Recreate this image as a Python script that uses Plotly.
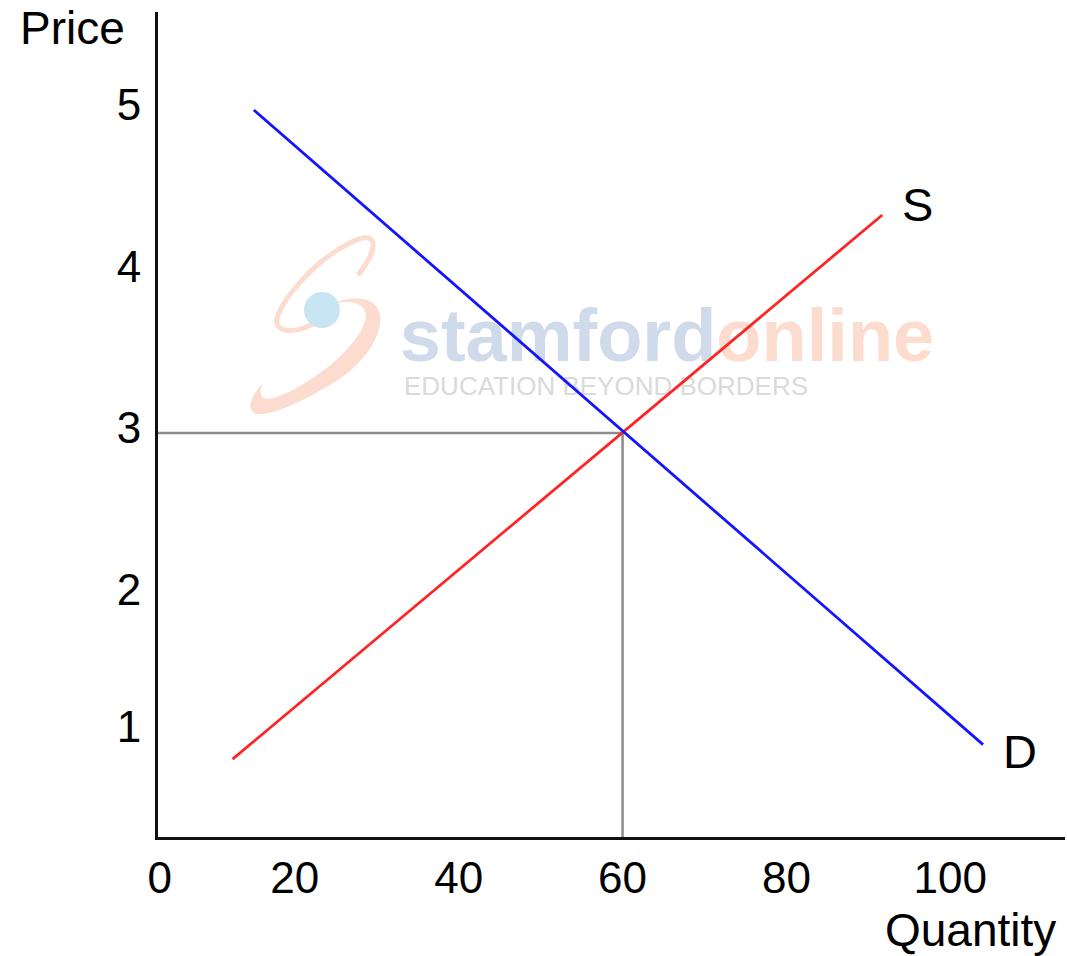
import plotly.graph_objects as go

# ---- data ----
demand_q = [15, 104]
demand_p = [5, 1.07]
supply_q = [12.4, 91.7]
supply_p = [0.98, 4.35]
eq_q = 60
eq_p = 3
x_tick_vals = [3.5, 20, 40, 60, 80, 100]
x_tick_text = ["0", "20", "40", "60", "80", "100"]
y_tick_vals = [1.15, 2, 3, 4, 5]
y_tick_text = ["1", "2", "3", "4", "5"]
x_range = [3.3, 114.0]
y_range = [0.498, 5.607]

W, H = 1067, 956
L, R, T, B = 158, 2, 12, 119
PX0, PX1, PY0, PY1 = L, W - R, T, H - B

FONT = "Liberation Sans, Arial, sans-serif"


def px2paper(x, y):
    return (x - PX0) / (PX1 - PX0), (PY1 - y) / (PY1 - PY0)


def px2data(x, y):
    q = x_range[0] + (x - PX0) / (PX1 - PX0) * (x_range[1] - x_range[0])
    p = y_range[0] + (PY1 - y) / (PY1 - PY0) * (y_range[1] - y_range[0])
    return q, p


def path_from_px(cmds):
    out = []
    for c in cmds:
        if isinstance(c, str):
            out.append(c)
        else:
            px, py = px2paper(*c)
            out.append(f"{px:.4f},{py:.4f}")
    return " ".join(out)


fig = go.Figure()

# watermark text (drawn first so the lines sit on top)
wq, wp = px2data(667, 342)
fig.add_trace(go.Scatter(
    x=[wq], y=[wp], mode="text",
    text=["<span style='color:#cfdaea'>stamford</span><span style='color:#fbdccf'>online</span>"],
    textposition="middle center",
    textfont=dict(family=FONT, size=74, weight="bold", color="#cfdaea"),
    hoverinfo="skip", showlegend=False,
))
eq2, ep2 = px2data(606, 388)
fig.add_trace(go.Scatter(
    x=[eq2], y=[ep2], mode="text",
    text=["EDUCATION BEYOND BORDERS"],
    textposition="middle center",
    textfont=dict(family=FONT, size=26, color="#dadada"),
    hoverinfo="skip", showlegend=False,
))

# reference lines to equilibrium
fig.add_trace(go.Scatter(
    x=[x_range[0], eq_q, eq_q], y=[eq_p, eq_p, y_range[0]],
    mode="lines", line=dict(color="#8c8c8c", width=2.5),
    hoverinfo="skip", showlegend=False,
))

# supply & demand
fig.add_trace(go.Scatter(x=supply_q, y=supply_p, mode="lines",
                         line=dict(color="#ff2424", width=2.8),
                         showlegend=False, name="S"))
fig.add_trace(go.Scatter(x=demand_q, y=demand_p, mode="lines",
                         line=dict(color="#1414ff", width=2.8),
                         showlegend=False, name="D"))

# logo (swoosh + sphere)
shapes = [
    dict(type="path", xref="paper", yref="paper", layer="below",
         path=path_from_px(["M", (358, 275), "C", (382, 245), (376, 229), (350, 243),
                            "C", (318, 258), (284, 296), (277, 318),
                            "C", (274, 334), (296, 334), (316, 322)]),
         line=dict(color="#fbdccf", width=5), fillcolor="rgba(0,0,0,0)"),
    dict(type="path", xref="paper", yref="paper", layer="below",
         path=path_from_px(["M", (330, 304), "C", (402, 278), (392, 350), (330, 385),
                            "C", (300, 403), (270, 416), (256, 414),
                            "C", (246, 410), (250, 398), (262, 384),
                            "C", (258, 398), (262, 402), (280, 396),
                            "C", (330, 375), (372, 330), (365, 311),
                            "C", (360, 300), (345, 301), (330, 304), "Z"]),
         line=dict(width=0), fillcolor="#fbdccf"),
    dict(type="circle", xref="paper", yref="paper", layer="below",
         x0=px2paper(304, 292)[0], y0=px2paper(304, 292)[1],
         x1=px2paper(340, 328)[0], y1=px2paper(340, 328)[1],
         line=dict(width=0), fillcolor="#c9e5f4"),
]

annotations = [
    dict(text="Price", xref="paper", yref="paper",
         x=px2paper(72, 0)[0], y=px2paper(0, 28)[1],
         xanchor="center", yanchor="middle", showarrow=False,
         font=dict(family=FONT, size=46, color="#000")),
    dict(text="Quantity", xref="paper", yref="paper",
         x=px2paper(970, 0)[0], y=px2paper(0, 930)[1],
         xanchor="center", yanchor="middle", showarrow=False,
         font=dict(family=FONT, size=46, color="#000")),
    dict(text="S", x=supply_q[-1], y=supply_p[-1], xref="x", yref="y",
         xanchor="left", yanchor="middle", xshift=18, yshift=10, showarrow=False,
         font=dict(family=FONT, size=47, color="#000")),
    dict(text="D", x=demand_q[-1], y=demand_p[-1], xref="x", yref="y",
         xanchor="left", yanchor="middle", xshift=18, yshift=-7, showarrow=False,
         font=dict(family=FONT, size=47, color="#000")),
]

fig.update_layout(
    width=W, height=H,
    margin=dict(l=L, r=R, t=T, b=B, pad=0),
    paper_bgcolor="white", plot_bgcolor="white",
    shapes=shapes, annotations=annotations,
    showlegend=False,
    xaxis=dict(range=x_range, showgrid=False, zeroline=False,
               showline=True, linecolor="#111", linewidth=3,
               tickmode="array", tickvals=x_tick_vals, ticktext=x_tick_text,
               ticks="", ticklabelstandoff=0,
               tickfont=dict(family=FONT, size=44, color="#000")),
    yaxis=dict(range=y_range, showgrid=False, zeroline=False,
               showline=True, linecolor="#111", linewidth=3,
               tickmode="array", tickvals=y_tick_vals, ticktext=y_tick_text,
               ticks="", ticklabelstandoff=5, ticklabelshift=-5,
               tickfont=dict(family=FONT, size=44, color="#000")),
)

fig.write_html("out.html", post_script="document.body.style.margin='0';",
               config={"displayModeBar": False})
